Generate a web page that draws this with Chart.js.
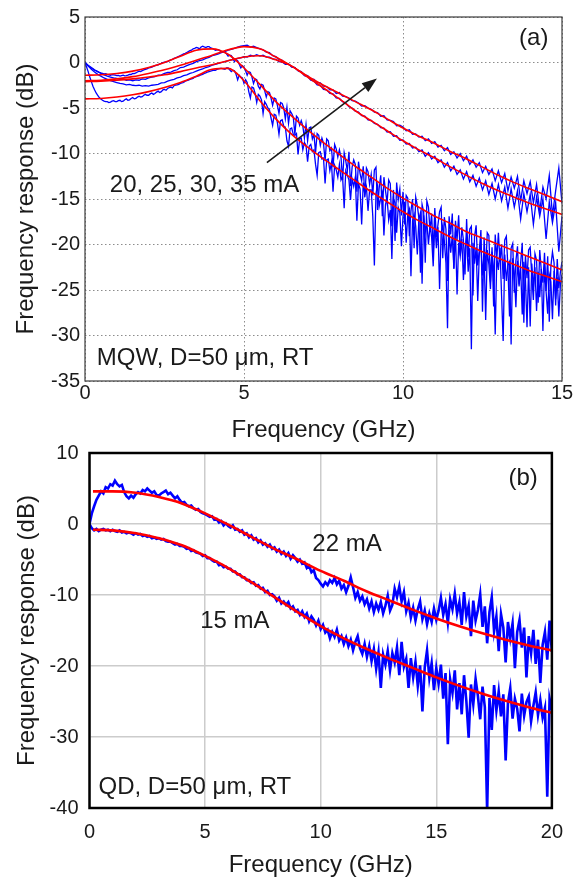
<!DOCTYPE html>
<html>
<head>
<meta charset="utf-8">
<script src="https://cdn.jsdelivr.net/npm/chart.js@4.4.1/dist/chart.umd.min.js"></script>
<style>
  html, body { margin: 0; padding: 0; background: #fff; }
  #wrap { position: relative; width: 575px; height: 882px; }
  canvas { position: absolute; left: 0; }
  #chartA { top: 0; }
  #chartB { top: 430px; }
</style>
</head>
<body>
<div id="wrap">
  <canvas id="chartA" width="575" height="442"></canvas>
  <canvas id="chartB" width="575" height="452"></canvas>
</div>
<script>
// ---- panel (a): MQW laser ----
// 20 and 25 mA traces read every 0.05 GHz, 30 and 35 mA every 0.1 GHz (0..15 GHz)
const stepLowI = 0.05;
const stepHighI = 0.1;
const measA20 = [
  0, -0.2, -0.35, -0.5, -0.6, -0.72, -0.85, -0.92, -1.0, -1.08, -1.15, -1.2, -1.25, -1.22, -1.3, -1.35, -1.4, -1.33, -1.35, -1.4,
  -1.45, -1.42, -1.5, -1.45, -1.4, -1.47, -1.45, -1.38, -1.3, -1.32, -1.2, -1.23, -1.15, -1.05, -0.95, -1.0, -0.9, -0.82, -0.75, -0.7,
  -0.6, -0.55, -0.5, -0.42, -0.35, -0.3, -0.25, -0.15, -0.1, 0.0, 0.05, 0.08, 0.1, 0.2, 0.3, 0.35, 0.45, 0.5, 0.6, 0.68,
  0.75, 0.85, 0.95, 1.0, 1.1, 1.2, 1.3, 1.35, 1.5, 1.55, 1.65, 1.6, 1.5, 1.7, 1.8, 1.72, 1.65, 1.75, 1.75, 1.6,
  1.55, 1.45, 1.35, 1.4, 1.4, 1.25, 1.1, 1.2, 1.15, 0.95, 0.7, 0.8, 0.75, 0.45, 0.1, 0.3, 0.2, -0.2, -0.6, -0.35,
  -0.5, -0.9, -1.4, -1.0, -1.1, -1.6, -2.3, -1.8, -1.9, -2.6, -2.9, -2.4, -2.5, -3.1, -3.8, -3.2, -3.3, -3.9, -4.7, -3.9,
  -4.0, -4.7, -5.6, -4.4, -4.5, -5.0, -6.2, -4.9, -6.7, -5.3, -5.6, -6.0, -7.9, -5.9, -6.1, -6.9, -6.4, -7.0, -8.3, -6.8,
  -8.6, -7.2, -7.1, -8.4, -7.9, -9.9, -7.8, -8.0, -9.1, -8.3, -8.9, -10.8, -8.4, -8.6, -9.7, -9.4, -11.5, -9.0, -9.5, -10.4,
  -9.6, -10.4, -12.9, -9.9, -10.8, -11.9, -9.8, -13.6, -11.5, -10.7, -11.2, -14.2, -10.9, -12.2, -13.0, -11.4, -14.8, -11.6, -12.0, -13.4,
  -12.3, -14.6, -11.8, -11.5, -16.2, -13.8, -12.4, -16.9, -12.6, -14.1, -15.4, -12.9, -13.3, -18.0, -14.0, -19.6, -13.2, -15.1, -13.9, -16.8,
  -14.2, -17.8, -14.6, -14.9, -19.1, -16.3, -15.0, -20.4, -14.8, -15.7, -17.1, -23.1, -15.6, -16.4, -22.0, -15.2, -15.9, -18.5, -16.6, -20.9,
  -16.0, -19.2, -17.8, -16.4, -15.9, -21.5, -17.0, -18.3, -24.0, -16.9, -18.9, -16.6, -22.7, -17.4, -19.5, -16.8, -21.2, -18.1, -19.5, -23.3,
  -17.2, -21.4, -18.3, -18.0, -25.6, -19.1, -17.9, -22.3, -20.6, -18.4, -27.4, -19.2, -22.9, -18.7, -19.0, -24.1, -20.3, -26.8, -18.9, -21.6,
  -18.7, -21.9, -20.0, -23.8, -19.5, -19.1, -22.5, -27.9, -20.4, -19.9, -25.3, -21.8, -20.2, -24.6, -22.0, -19.8, -28.6, -21.2, -23.7, -20.6,
  -20.3, -23.5, -26.1, -21.0, -21.7, -26.4, -20.6, -22.9, -24.2, -20.9, -25.1, -21.3, -28.5, -22.4, -20.8, -22.0, -26.7, -21.6, -24.8, -23.0,
  -21.9
];
const measA25 = [
  0, -0.5, -1.0, -1.6, -2.1, -2.6, -3.0, -3.35, -3.6, -3.85, -4.0, -4.15, -4.25, -4.3, -4.3, -4.4, -4.35, -4.25, -4.2, -4.3,
  -4.3, -4.2, -4.15, -4.3, -4.25, -4.1, -4.0, -4.15, -4.1, -3.95, -3.85, -4.0, -3.95, -3.8, -3.7, -3.8, -3.75, -3.6, -3.5, -3.6,
  -3.6, -3.45, -3.35, -3.5, -3.4, -3.25, -3.15, -3.3, -3.2, -3.0, -2.95, -3.05, -2.85, -2.75, -2.7, -2.8, -2.55, -2.5, -2.45, -2.4,
  -2.3, -2.25, -2.2, -2.05, -2.0, -1.95, -1.85, -1.8, -1.75, -1.6, -1.55, -1.5, -1.45, -1.35, -1.3, -1.2, -1.15, -1.05, -1.0, -0.95,
  -0.9, -0.85, -0.85, -0.75, -0.7, -0.65, -0.65, -0.7, -0.75, -0.6, -0.6, -0.8, -1.0, -0.85, -0.9, -1.3, -1.9, -1.4, -1.6, -1.7,
  -2.3, -1.9, -2.2, -3.2, -3.9, -2.7, -2.8, -3.4, -4.4, -3.5, -3.7, -4.1, -5.6, -4.3, -4.6, -5.0, -5.2, -6.1, -6.9, -5.7,
  -5.8, -6.6, -7.9, -6.4, -6.3, -7.0, -7.1, -8.6, -9.2, -7.3, -7.2, -7.9, -8.0, -7.8, -10.1, -8.4, -8.3, -9.6, -8.8, -9.1,
  -10.9, -9.2, -9.0, -9.8, -9.6, -11.2, -12.4, -9.9, -9.8, -10.6, -10.5, -13.3, -10.7, -10.6, -11.9, -11.0, -14.2, -11.3, -11.8, -12.6,
  -11.2, -12.9, -12.5, -16.0, -11.9, -12.4, -12.9, -15.1, -12.8, -13.6, -12.6, -17.4, -13.3, -13.9, -17.8, -13.2, -14.5, -13.7, -16.3, -14.0,
  -14.0, -16.9, -22.3, -14.4, -13.5, -15.8, -14.9, -14.3, -19.0, -15.6, -14.9, -17.3, -16.2, -21.6, -15.0, -15.4, -18.7, -15.9, -16.5, -20.2,
  -16.9, -15.3, -19.8, -16.6, -16.1, -23.5, -17.4, -16.7, -18.0, -21.1, -17.2, -16.5, -24.3, -16.8, -18.6, -17.5, -20.0, -17.9, -19.2, -22.4,
  -17.6, -20.4, -18.1, -24.9, -18.7, -17.9, -19.6, -22.0, -29.2, -18.4, -20.9, -19.0, -22.6, -18.6, -25.5, -19.8, -21.3, -19.4, -23.9, -20.5,
  -19.2, -23.0, -20.4, -31.5, -19.8, -22.1, -20.3, -26.2, -21.0, -19.9, -23.4, -21.0, -28.3, -20.6, -22.2, -24.9, -20.8, -22.7, -29.9, -21.4,
  -22.8, -20.4, -25.6, -30.6, -21.1, -24.0, -22.3, -21.9, -31.0, -21.5, -23.2, -26.9, -21.8, -24.4, -22.6, -27.7, -21.9, -23.8, -29.1, -22.5,
  -29.0, -22.1, -24.7, -22.5, -27.3, -23.0, -25.8, -22.7, -29.5, -22.4, -25.2, -27.6, -23.3, -24.1, -28.2, -22.9, -26.0, -23.6, -27.9, -24.4,
  -23.3
];
const measA30 = [
  0, -0.3, -0.55, -0.8, -1.0, -1.2, -1.35, -1.5, -1.6, -1.7,
  -1.75, -1.85, -1.8, -1.95, -1.9, -2.0, -1.9, -1.95, -1.8, -1.85,
  -1.7, -1.6, -1.55, -1.4, -1.35, -1.2, -1.1, -1.05, -0.9, -0.8,
  -0.55, -0.5, -0.35, -0.2, -0.1, 0.1, 0.2, 0.3, 0.45, 0.55,
  0.75, 0.85, 0.95, 1.1, 1.2, 1.35, 1.45, 1.55, 1.7, 1.8,
  1.85, 1.9, 1.7, 1.8, 1.65, 1.5, 1.4, 1.15, 1.1, 0.75,
  0.65, 0.35, 0.25, -0.1, -0.15, -0.5, -0.55, -0.9, -1.0, -1.35,
  -1.45, -1.8, -1.85, -2.2, -2.25, -2.6, -2.65, -3.0, -3.0, -3.4,
  -3.3, -3.7, -3.75, -3.9, -4.2, -4.25, -4.45, -4.8, -4.75, -5.0,
  -5.15, -5.45, -5.5, -5.9, -5.85, -6.3, -6.35, -6.5, -6.95, -6.9,
  -7.1, -7.5, -7.4, -7.9, -7.85, -8.2, -8.1, -8.6, -8.4, -8.9,
  -8.7, -9.3, -9.1, -9.7, -9.35, -10.1, -9.8, -10.5, -10.0, -10.8,
  -10.3, -11.2, -10.7, -11.5, -11.0, -12.1, -11.4, -12.3, -11.7, -13.0,
  -11.9, -13.2, -12.2, -14.1, -12.6, -13.8, -12.5, -15.2, -13.0, -14.4,
  -13.1, -15.4, -13.4, -16.3, -13.7, -15.0, -12.4, -16.8, -14.1, -11.6, -15.5
];
const measA35 = [
  0, -0.4, -0.75, -1.05, -1.3, -1.5, -1.7, -1.85, -2.0, -2.1,
  -2.2, -2.3, -2.35, -2.45, -2.4, -2.5, -2.55, -2.5, -2.6, -2.55,
  -2.6, -2.5, -2.45, -2.4, -2.25, -2.2, -2.05, -1.95, -1.85, -1.7,
  -1.6, -1.45, -1.35, -1.2, -1.1, -0.95, -0.8, -0.7, -0.55, -0.45,
  -0.3, -0.2, -0.1, 0.0, 0.1, 0.2, 0.3, 0.35, 0.45, 0.5,
  0.65, 0.6, 0.8, 0.7, 0.85, 0.7, 0.8, 0.6, 0.6, 0.4,
  0.35, 0.1, 0.05, -0.2, -0.2, -0.45, -0.55, -0.9, -1.05, -1.45,
  -1.55, -1.95, -2.05, -2.45, -2.5, -2.95, -3.0, -3.4, -3.45, -3.9,
  -3.95, -4.3, -4.45, -4.85, -5.0, -5.35, -5.45, -5.85, -5.9, -6.3,
  -6.35, -6.7, -6.8, -7.15, -7.2, -7.65, -7.6, -8.1, -8.05, -8.55,
  -8.5, -8.95, -8.9, -9.4, -9.3, -9.8, -9.6, -10.3, -9.9, -10.6,
  -10.3, -11.0, -10.7, -11.5, -11.0, -11.9, -11.4, -12.3, -11.8, -12.8,
  -12.0, -13.1, -12.4, -13.6, -12.7, -14.0, -13.0, -14.5, -13.3, -15.0,
  -13.4, -15.2, -13.7, -16.0, -13.9, -15.9, -14.1, -17.2, -14.4, -16.4,
  -14.5, -17.8, -14.8, -16.9, -15.0, -19.4, -15.3, -17.6, -15.4, -20.8, -16.9
];

// fitted responses (red), read every 0.5 GHz
const fitFreqA = [0, 0.5, 1, 1.5, 2, 2.5, 3, 3.5, 4, 4.5, 5, 5.5, 6, 6.5, 7, 7.5,
  8, 8.5, 9, 9.5, 10, 10.5, 11, 11.5, 12, 12.5, 13, 13.5, 14, 14.5, 15];
const fitA20 = [-1.4, -1.35, -1.2, -0.95, -0.55, 0.0, 0.7, 1.35, 1.5, 0.9, -0.6, -2.4, -4.3, -5.9, -7.4, -8.8,
  -10.1, -11.4, -12.6, -13.8, -14.9, -15.9, -16.9, -17.7, -18.6, -19.3, -20.0, -20.7, -21.4, -22.1, -22.8];
const fitA25 = [-4.0, -3.95, -3.8, -3.55, -3.2, -2.75, -2.2, -1.5, -0.75, -0.65, -2.0, -4.2, -6.2, -7.9, -9.3, -10.6,
  -11.8, -13.0, -14.2, -15.3, -16.4, -17.4, -18.3, -19.2, -20.0, -20.8, -21.5, -22.2, -22.9, -23.5, -24.1];
const fitA30 = [-2.0, -1.95, -1.8, -1.55, -1.2, -0.8, -0.3, 0.25, 0.8, 1.4, 1.75, 1.5, 0.6, -0.4, -1.5, -2.5,
  -3.4, -4.3, -5.2, -6.2, -7.2, -8.1, -8.9, -9.8, -10.6, -11.5, -12.4, -13.2, -13.9, -14.6, -15.3];
const fitA35 = [-2.1, -2.05, -1.95, -1.8, -1.6, -1.35, -1.0, -0.6, -0.25, 0.2, 0.6, 0.75, 0.3, -0.4, -1.6, -2.8,
  -4.0, -5.3, -6.4, -7.5, -8.6, -9.6, -10.5, -11.5, -12.4, -13.3, -14.1, -14.8, -15.5, -16.1, -16.7];

// ---- panel (b): QD laser, measured traces every 0.1 GHz (0..20 GHz) ----
const stepB = 0.1;
const measB22 = [
  0, 1.5, 2.5, 3.4, 4.0, 4.6, 4.3, 5.2, 5.0, 5.6,
  5.4, 6.1, 5.6, 5.3, 5.5, 4.5, 3.9, 3.6, 4.0, 3.7,
  4.2, 4.5, 4.3, 4.8, 4.6, 5.0, 4.7, 4.4, 4.6, 4.1,
  4.0, 4.3, 4.5, 4.7, 4.2, 4.4, 4.0, 3.6, 3.9, 3.4,
  3.0, 3.1, 2.7, 2.5, 2.6, 2.2, 2.0, 2.1, 1.7, 1.5,
  1.4, 1.2, 1.0, 1.1, 0.6, 0.7, 0.2, 0.4, -0.2, 0.1,
  -0.3, -0.5, -0.2, -0.8, -0.7, -1.1, -0.9, -1.5, -1.3, -1.9,
  -1.6, -2.2, -2.0, -2.6, -2.3, -2.9, -2.7, -3.2, -2.9, -3.5,
  -3.3, -3.9, -3.6, -4.2, -3.9, -4.5, -4.1, -4.9, -4.4, -4.8,
  -5.3, -5.0, -5.6, -5.4, -6.2, -5.9, -6.8, -6.5, -7.6, -7.9,
  -8.4, -8.8, -8.2, -8.6, -7.9, -8.3, -7.6, -8.5, -8.0, -9.1,
  -8.6, -9.6, -8.7, -7.5, -8.9, -10.4, -9.6, -10.8, -10.2, -11.3,
  -10.6, -11.9, -10.9, -12.4, -11.2, -12.1, -11.0, -12.6, -11.5, -10.1,
  -12.2, -11.4, -9.1, -10.3, -8.8, -10.9, -9.6, -12.3, -11.1, -13.2,
  -11.8, -13.6, -12.0, -10.9, -13.4, -12.2, -14.1, -12.6, -13.8, -11.9,
  -13.5, -12.2, -10.4, -12.8, -11.3, -13.9, -10.6, -12.0, -9.8, -12.6,
  -11.0, -14.2, -9.6, -13.0, -11.5, -15.8, -10.8, -13.6, -12.1, -9.9,
  -14.5, -11.6, -16.8, -12.4, -10.3, -15.1, -13.0, -17.9, -12.7, -14.6,
  -19.5, -13.8, -16.1, -14.0, -20.3, -15.2, -13.5, -17.4, -14.6, -21.6,
  -15.8, -18.2, -14.9, -19.7, -16.3, -22.4, -17.0, -15.2, -19.1, -13.6,
  -18.0
];
const measB15 = [
  0, -0.6, -0.9, -0.7, -1.0, -0.8, -0.7, -0.9, -0.8, -1.0,
  -0.8, -1.0, -1.1, -0.9, -1.2, -1.1, -1.3, -1.2, -1.3, -1.5,
  -1.3, -1.5, -1.4, -1.7, -1.6, -1.8, -1.7, -2.0, -1.9, -2.1,
  -2.0, -2.2, -2.1, -2.4, -2.5, -2.5, -2.7, -2.9, -2.8, -3.1,
  -3.1, -3.2, -3.5, -3.4, -3.8, -3.7, -4.0, -4.1, -4.2, -4.5,
  -4.4, -4.8, -4.8, -5.1, -5.3, -5.3, -5.8, -5.7, -6.1, -6.0,
  -6.3, -6.3, -6.7, -6.7, -7.1, -7.1, -7.5, -7.5, -7.9, -7.9,
  -8.3, -8.2, -8.7, -8.6, -9.1, -9.0, -9.6, -9.4, -10.0, -9.9,
  -10.2, -10.8, -10.4, -11.2, -10.9, -11.4, -11.0, -11.9, -11.6, -12.3,
  -12.1, -12.8, -12.3, -13.1, -12.6, -13.7, -13.0, -13.5, -14.3, -13.6,
  -14.8, -14.2, -15.3, -14.9, -16.1, -15.2, -15.9, -14.9, -16.4, -15.8,
  -16.9, -16.0, -17.2, -16.3, -17.8, -16.6, -15.8, -17.5, -18.3, -16.9,
  -18.7, -17.2, -19.3, -17.6, -20.4, -18.1, -23.1, -18.4, -19.8, -17.9,
  -20.6, -18.2, -19.5, -17.4, -21.3, -16.6, -20.1, -19.0, -23.1, -18.9,
  -21.6, -19.4, -22.8, -19.9, -26.4, -20.2, -17.8, -21.7, -19.6, -23.4,
  -20.3, -22.5, -19.8, -24.6, -21.0, -31.0, -21.9, -23.8, -20.6, -26.1,
  -22.4, -26.8, -21.3, -24.9, -30.1, -22.6, -25.4, -21.8, -24.2, -27.5,
  -22.9, -25.8, -40.5, -24.5, -29.0, -22.7, -26.3, -23.6, -27.1, -24.0,
  -33.3, -25.2, -23.1, -27.4, -24.6, -26.0, -29.2, -23.9, -27.0, -25.1,
  -24.3, -27.8, -25.6, -23.7, -26.9, -24.8, -27.3, -25.9, -38.4, -24.6,
  -26.2
];
const fitFreqB = [0.15, 1, 2, 3, 4, 5, 6, 7, 8, 9, 10, 11, 12, 13, 14, 15, 16, 17, 18, 19, 20];
const fitB22 = [4.6, 4.6, 4.4, 3.8, 2.9, 1.5, -0.1, -1.8, -3.5, -5.0, -6.6,
  -8.0, -9.5, -10.8, -12.1, -13.3, -14.4, -15.4, -16.3, -17.1, -17.8];
const fitB15 = [-0.8, -0.9, -1.3, -2.0, -3.0, -4.5, -6.2, -8.2, -10.3, -12.4, -14.4,
  -16.1, -17.6, -19.0, -20.3, -21.6, -22.8, -23.9, -24.9, -25.8, -26.6];

const BLUE = '#0000ff';
const RED = '#ff0000';
const TEXT = '#1a1a1a';
Chart.defaults.font.family = "'Liberation Sans', Arial, sans-serif";
Chart.defaults.color = TEXT;

function sampled(vals, step) {
  return vals.map((v, i) => ({ x: Math.round(i * step * 100) / 100, y: v }));
}
function paired(xs, ys) {
  return xs.map((x, i) => ({ x: x, y: ys[i] }));
}
function fitSet(xs, ys, w) {
  return { data: paired(xs, ys), borderColor: RED, borderWidth: w, pointRadius: 0,
           cubicInterpolationMode: 'monotone', fill: false };
}
function measSet(vals, step, w) {
  return { data: sampled(vals, step), borderColor: BLUE, borderWidth: w, pointRadius: 0,
           tension: 0, fill: false };
}

// closed axes box, text labels and the arrow, drawn over the curves
const panelDecor = {
  id: 'panelDecor',
  afterDatasetsDraw(chart, args, opts) {
    const { ctx, chartArea: a, scales: { x, y } } = chart;
    ctx.save();
    ctx.strokeStyle = opts.frameColor;
    ctx.lineWidth = opts.frameWidth;
    ctx.strokeRect(a.left, a.top, a.right - a.left, a.bottom - a.top);

    ctx.fillStyle = TEXT;
    ctx.font = "24px 'Liberation Sans', Arial, sans-serif";
    ctx.textBaseline = 'middle';
    ctx.textAlign = 'left';
    opts.labels.forEach(l => {
      ctx.fillText(l.text, x.getPixelForValue(l.x), y.getPixelForValue(l.y));
    });

    if (opts.arrow) {
      const x0 = x.getPixelForValue(opts.arrow.from[0]);
      const y0 = y.getPixelForValue(opts.arrow.from[1]);
      const x1 = x.getPixelForValue(opts.arrow.to[0]);
      const y1 = y.getPixelForValue(opts.arrow.to[1]);
      const ang = Math.atan2(y1 - y0, x1 - x0);
      const len = 15, half = 5.5;
      ctx.strokeStyle = TEXT;
      ctx.fillStyle = TEXT;
      ctx.lineWidth = 1.6;
      ctx.beginPath();
      ctx.moveTo(x0, y0);
      ctx.lineTo(x1 - len * Math.cos(ang), y1 - len * Math.sin(ang));
      ctx.stroke();
      ctx.beginPath();
      ctx.moveTo(x1, y1);
      ctx.lineTo(x1 - len * Math.cos(ang) + half * Math.sin(ang), y1 - len * Math.sin(ang) - half * Math.cos(ang));
      ctx.lineTo(x1 - len * Math.cos(ang) - half * Math.sin(ang), y1 - len * Math.sin(ang) + half * Math.cos(ang));
      ctx.closePath();
      ctx.fill();
    }
    ctx.restore();
  }
};

// Panel (a)
new Chart(document.getElementById('chartA'), {
  type: 'line',
  data: {
    datasets: [
      fitSet(fitFreqA, fitA20, 1.6),
      fitSet(fitFreqA, fitA25, 1.6),
      fitSet(fitFreqA, fitA30, 1.6),
      fitSet(fitFreqA, fitA35, 1.6),
      measSet(measA20, stepLowI, 1.3),
      measSet(measA25, stepLowI, 1.3),
      measSet(measA30, stepHighI, 1.3),
      measSet(measA35, stepHighI, 1.3)
    ]
  },
  options: {
    responsive: false,
    animation: false,
    events: [],
    layout: { padding: { left: 0, right: 13, top: 12.5, bottom: 0 } },
    plugins: {
      legend: { display: false },
      tooltip: { enabled: false },
      panelDecor: {
        frameColor: '#3c3c3c',
        frameWidth: 1.2,
        labels: [
          { text: '(a)', x: 13.65, y: 2.65 },
          { text: '20, 25, 30, 35 mA', x: 0.78, y: -13.5 },
          { text: 'MQW, D=50 \u03bcm, RT', x: 0.37, y: -32.5 }
        ],
        arrow: { from: [5.72, -11.0], to: [9.18, -1.77] }
      }
    },
    scales: {
      x: {
        type: 'linear', min: 0, max: 15,
        ticks: { stepSize: 5, padding: 0, maxRotation: 0, font: { size: 20 } },
        grid: { color: '#8c8c8c', lineWidth: 1, drawTicks: false },
        border: { display: false, dash: [1.5, 2.5] },
        title: { display: true, text: 'Frequency (GHz)', font: { size: 24, lineHeight: 1 },
                 padding: { top: 0, bottom: 0 } },
        afterFit: s => { s.height = 61; }
      },
      y: {
        min: -35, max: 5,
        ticks: { stepSize: 5, padding: 5, font: { size: 20 } },
        grid: { color: '#8c8c8c', lineWidth: 1, drawTicks: false },
        border: { display: false, dash: [1.5, 2.5] },
        title: { display: true, text: 'Frequency response (dB)', font: { size: 24, lineHeight: 1 },
                 padding: { top: 14, bottom: 0 } },
        afterFit: s => { s.width = 85; }
      }
    }
  },
  plugins: [panelDecor]
});

// Panel (b)
new Chart(document.getElementById('chartB'), {
  type: 'line',
  data: {
    datasets: [
      fitSet(fitFreqB, fitB22, 2.6),
      fitSet(fitFreqB, fitB15, 2.6),
      measSet(measB22, stepB, 2.6),
      measSet(measB15, stepB, 2.6)
    ]
  },
  options: {
    responsive: false,
    animation: false,
    events: [],
    layout: { padding: { left: 0, right: 11.5, top: 18, bottom: 0 } },
    plugins: {
      legend: { display: false },
      tooltip: { enabled: false },
      panelDecor: {
        frameColor: '#000000',
        frameWidth: 2.5,
        labels: [
          { text: '(b)', x: 18.12, y: 6.4 },
          { text: '22 mA', x: 9.64, y: -2.9 },
          { text: '15 mA', x: 4.79, y: -13.75 },
          { text: 'QD, D=50 \u03bcm, RT', x: 0.39, y: -37.15 }
        ]
      }
    },
    scales: {
      x: {
        type: 'linear', min: 0, max: 20,
        ticks: { stepSize: 5, padding: 12, maxRotation: 0, font: { size: 20 } },
        grid: { color: '#cccccc', lineWidth: 1.5, drawTicks: false },
        border: { display: false },
        title: { display: true, text: 'Frequency (GHz)', font: { size: 24, lineHeight: 1 },
                 padding: { top: 0, bottom: 5 } },
        afterFit: s => { s.height = 74; }
      },
      y: {
        min: -40, max: 10,
        ticks: { stepSize: 10, padding: 11, font: { size: 20 } },
        grid: { color: '#cccccc', lineWidth: 1.5, drawTicks: false },
        border: { display: false },
        title: { display: true, text: 'Frequency response (dB)', font: { size: 24, lineHeight: 1 },
                 padding: { top: 15, bottom: 0 } },
        afterFit: s => { s.width = 89.5; }
      }
    }
  },
  plugins: [panelDecor]
});
</script>
</body>
</html>
